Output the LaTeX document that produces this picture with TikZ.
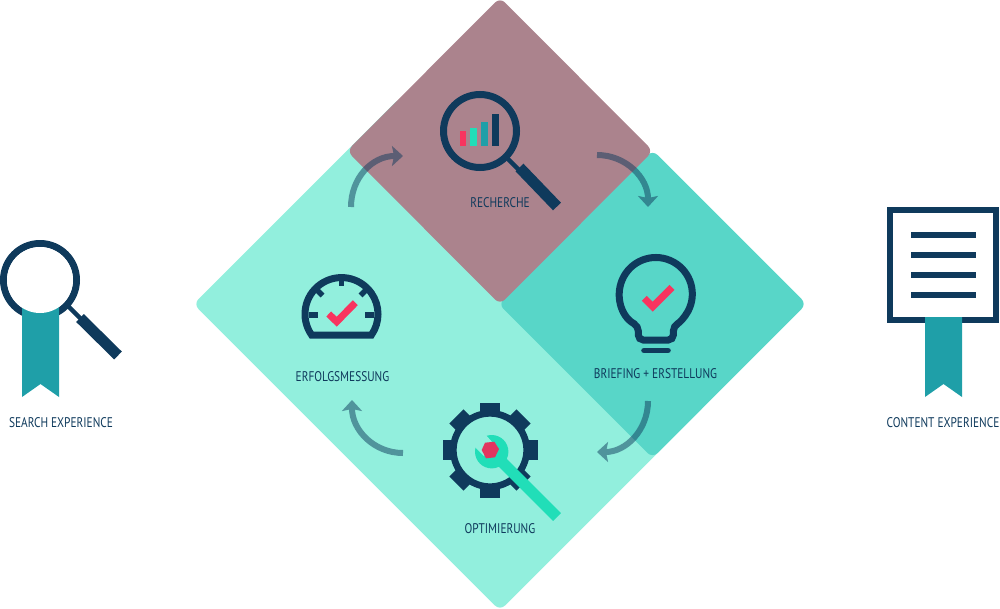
\documentclass[tikz,border=0pt]{standalone}
\usepackage{fontspec}
\setmainfont[FakeStretch=0.81]{PT Sans}
\usetikzlibrary{arrows.meta}
\definecolor{navy}{HTML}{0F3A5C}
\definecolor{mint}{HTML}{92EFDD}
\definecolor{seagreen}{HTML}{58D6C8}
\definecolor{mauve}{HTML}{AB838D}
\definecolor{ribbon}{HTML}{1F9FA8}
\definecolor{wrench}{HTML}{21DEB8}
\definecolor{signal}{HTML}{F8345F}
\tikzset{
  lab/.style={inner sep=0pt,text=navy,font=\fontsize{14}{14}\selectfont},
  tile/.style={rounded corners=7},
  icon/.style={draw=navy,line width=7},
  check/.style={draw=signal,line width=7,miter limit=10},
  cycle arrow/.style={draw=navy,line width=6,-{Stealth[length=11,width=20,inset=2]}},
}
\begin{document}
\begin{tikzpicture}[x=1pt,y=-1pt]
            \useasboundingbox (0,0) rectangle (1000,608);
            % tiles
            \fill [mint,tile] (193.5,304) -- (400,97.5) -- (706.5,404) -- (500,610.5) -- cycle;
            \fill [seagreen,tile] (652.5,150) -- (806.5,304) -- (652.5,458) -- (498.5,304) -- cycle;
            \fill [mauve,tile] (500,-2.5) -- (653,151) -- (500,304.5) -- (347,151) -- cycle;
            % recherche
            \draw [icon] (480,131) circle (36.5);
            \draw [navy,line width=4.5] (506,157) -- (520,171);
            \draw [navy,line width=11] (519.5,167.5) -- (557,206.5);
            \fill [signal] (459.5,131) rectangle (466,145.7);
            \fill [wrench] (470,128) rectangle (477,145.7);
            \fill [ribbon] (481,121.7) rectangle (488,145.7);
            \fill [navy] (492.3,114) rectangle (499,145.7);
            \node [lab] (recherche) at (500,202.7) {RECHERCHE};
            % briefing
            \draw [icon,rounded corners=5] (638.3,326) arc [start angle=118.7,end angle=421.3,radius=36.5] -- (673.3,340) -- (638.3,340) -- cycle;
            \draw [navy,line width=5.6,line cap=round] (644,350.5) -- (668,350.5);
            \draw [check] (644.3,298.3) -- (652.7,306.7) -- (672,287.3);
            \node [lab] (briefing) at (655.5,373.7) {BRIEFING + ERSTELLUNG};
            % optimierung
            \draw [navy,line width=6.7] (490,450) circle (36.7);
            \foreach \a in {0,45,...,315}
                \draw [navy,line width=20] ([shift={(\a:36)}]490,450) -- ([shift={(\a:47.5)}]490,450);
            \draw [wrench,line width=11] (492,452) -- (557,517);
            \fill [wrench] (491.7,451.7) circle (16.7);
            \fill [mint] (473,445) -- (484.5,433.5) -- (493,443) -- (484,456) -- cycle;
            \fill [signal!90!navy] (485,442.7) -- (494.3,441.7) -- (499,449) -- (495,457.3) -- (486,458.3) -- (481.7,450) -- cycle;
            \node [lab] (optimierung) at (500,528.7) {OPTIMIERUNG};
            % erfolgsmessung
            \draw [icon] (311.6,335) arc [start angle=145,end angle=395,radius=36.5] -- cycle;
            \draw [navy,line width=5.5] (309,315) -- (317.7,315);
            \draw [navy,line width=5.5] (374,315) -- (365.3,315);
            \draw [navy,line width=5.5] (341.5,279) -- (341.5,286);
            \draw [navy,line width=5.5] (316,289) -- (322.5,295.5);
            \draw [navy,line width=5.5] (367,289) -- (360.5,295.5);
            \draw [check] (328.7,314) -- (336.7,321.7) -- (355.3,302.7);
            \node [lab] (erfolg) at (342.5,376.2) {ERFOLGSMESSUNG};
            % cycle
            \coordinate (erfolgout) at (351,207);
            \coordinate (rechercheinp) at (403,156);
            \coordinate (rechercheout) at (597,155);
            \coordinate (briefinginp) at (648,207);
            \coordinate (briefingout) at (648,401);
            \coordinate (optinp) at (597,452);
            \coordinate (optout) at (403,453);
            \coordinate (erfolginp) at (352,400);
            \begin{scope}[transparency group,opacity=0.5]
            \draw [cycle arrow] (erfolgout) .. controls (351,178) and (372,156) .. (rechercheinp);
            \draw [cycle arrow] (rechercheout) .. controls (626,155) and (648,178) .. (briefinginp);
            \draw [cycle arrow] (briefingout) .. controls (648,430) and (626,452) .. (optinp);
            \draw [cycle arrow] (optout) .. controls (374,453) and (352,430) .. (erfolginp);
            \end{scope}
            % search experience
            \draw [icon] (40,280) circle (36.5);
            \draw [navy,line width=4.5] (68,306) -- (82,320);
            \draw [navy,line width=11] (80,318) -- (118,355.5);
            \fill [ribbon] (22,300) -- (59,300) -- (59,397) -- (40.5,384) -- (22,397) -- cycle;
            \fill [white] (40,280) circle (33);
            \node [lab] (search) at (61,422.7) {SEARCH EXPERIENCE};
            % content experience
            \draw [icon,fill=white,line width=6] (890,210) rectangle (996,320);
            \foreach \y in {235,255,275,295}
                \draw [navy,line width=6] (911,\y) -- (976,\y);
            \fill [ribbon] (925,317) -- (962,317) -- (962,397) -- (943.5,384) -- (925,397) -- cycle;
            \node [lab] (content) at (943,422.7) {CONTENT EXPERIENCE};
        \end{tikzpicture}
\end{document}
